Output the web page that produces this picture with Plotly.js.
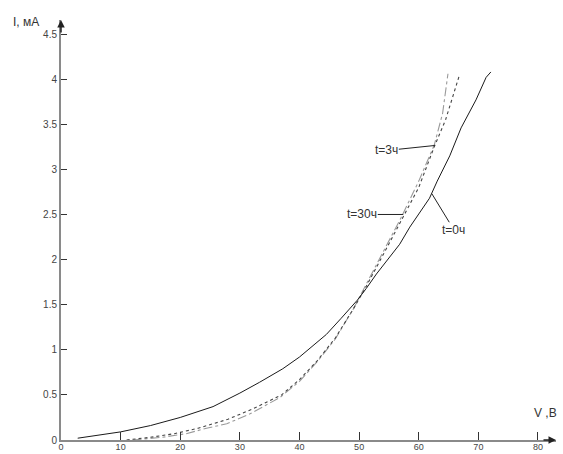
<!DOCTYPE html>
<html><head><meta charset="utf-8">
<script src="https://cdn.plot.ly/plotly-3.0.1.min.js"></script>
<style>html,body{margin:0;padding:0;background:#fff}#c{width:563px;height:454px}</style>
</head><body><div id="c"></div>
<script>
// t = 0 h (solid)
const x_t0 = [2.8, 6, 10, 15, 20, 25.5, 30, 33.3, 37.2, 40, 44.5, 47, 49.7, 51.2, 52.9, 56.8, 58.5, 61.8, 63.1, 65.2, 67.1, 69.6, 71.3, 72.1];
const y_t0 = [0.02, 0.05, 0.09, 0.16, 0.25, 0.37, 0.52, 0.64, 0.79, 0.92, 1.17, 1.35, 1.55, 1.68, 1.84, 2.17, 2.36, 2.68, 2.87, 3.15, 3.46, 3.77, 4.02, 4.08];
// t = 3 h (dotted)
const x_t3 = [11, 15, 19, 23, 28, 32, 37, 40, 43, 46, 49, 51, 54, 57, 60, 62.6, 64.5, 66.8];
const y_t3 = [0, 0.03, 0.07, 0.13, 0.23, 0.34, 0.5, 0.67, 0.88, 1.13, 1.45, 1.68, 2.05, 2.42, 2.8, 3.25, 3.55, 4.04];
// t = 30 h (dash-dot)
const x_t30 = [12, 17, 21, 24.4, 27.8, 31.7, 36.7, 40, 43, 46, 49, 51, 54, 57, 60, 62.6, 64, 64.9];
const y_t30 = [0, 0.03, 0.07, 0.13, 0.18, 0.29, 0.47, 0.65, 0.87, 1.12, 1.45, 1.7, 2.07, 2.46, 2.87, 3.27, 3.62, 4.06];

const xTicks = [0, 10, 20, 30, 40, 50, 60, 70, 80];
const yTicks = [0, 0.5, 1, 1.5, 2, 2.5, 3, 3.5, 4, 4.5];
const yTickText = ['0', '0.5', '1', '1.5', '2', '2.5', '3', '3.5', '4', '4.5'];
const labelT0 = 't=0ч', labelT3 = 't=3ч', labelT30 = 't=30ч';
const xTitle = 'V ,В', yTitle = 'I, мА';

const traces = [
  {x: x_t30, y: y_t30, mode: 'lines', line: {color: '#9a9a9a', width: 1.1, dash: 'dashdot'}, hoverinfo: 'skip'},
  {x: x_t3, y: y_t3, mode: 'lines', line: {color: '#444', width: 1.1, dash: 'dot'}, hoverinfo: 'skip'},
  {x: x_t0, y: y_t0, mode: 'lines', line: {color: '#1a1a1a', width: 1}, hoverinfo: 'skip'}
];

const font = {family: 'Liberation Sans, Arial, sans-serif', size: 12, color: '#333'};
const layout = {
  width: 563, height: 454,
  margin: {l: 61, r: 7, t: 20, b: 14, pad: 0},
  paper_bgcolor: '#fff', plot_bgcolor: '#fff',
  showlegend: false,
  font: font,
  xaxis: {
    range: [0, 83.02], showgrid: false, zeroline: false,
    showline: true, linecolor: '#8a8a8a', linewidth: 2,
    tickmode: 'array', tickvals: xTicks,
    ticks: 'inside', ticklen: 8, tickcolor: '#333', tickwidth: 1,
    ticklabelstandoff: -3,
    tickfont: {family: 'Liberation Sans, Arial, sans-serif', size: 9, color: '#444'},
    fixedrange: true
  },
  yaxis: {
    range: [0, 4.656], showgrid: false, zeroline: false,
    showline: true, linecolor: '#8a8a8a', linewidth: 2,
    tickmode: 'array', tickvals: yTicks, ticktext: yTickText,
    ticks: 'inside', ticklen: 6, tickcolor: '#333', tickwidth: 1,
    tickfont: {family: 'Liberation Sans, Arial, sans-serif', size: 10, color: '#444'},
    fixedrange: true
  },
  annotations: [
    {xref: 'x', yref: 'paper', x: 0, y: 1.0, text: '', showarrow: true, arrowhead: 2, arrowsize: 1, arrowwidth: 1.5, arrowcolor: '#222', ax: 0, ay: 14},
    {xref: 'paper', yref: 'y', x: 1.0, y: 0, text: '', showarrow: true, arrowhead: 2, arrowsize: 1, arrowwidth: 1.5, arrowcolor: '#222', ax: -14, ay: 0},
    {xref: 'paper', yref: 'paper', x: -0.0707, y: 0.995, text: yTitle, showarrow: false, font: {family: 'Liberation Sans, Arial, sans-serif', size: 12, color: '#333'}, xanchor: 'center', yanchor: 'middle'},
    {xref: 'paper', yref: 'paper', x: 0.978, y: 0.064, text: xTitle, showarrow: false, font: {family: 'Liberation Sans, Arial, sans-serif', size: 12, color: '#333'}, xanchor: 'center', yanchor: 'middle'},
    {xref: 'x', yref: 'y', x: 62.7, y: 3.265, text: labelT3, showarrow: true, arrowhead: 0, arrowwidth: 1, arrowcolor: '#222', ax: -48, ay: 5, font: font, standoff: 0, borderpad: 0},
    {xref: 'x', yref: 'y', x: 57.4, y: 2.50, text: labelT30, showarrow: true, arrowhead: 0, arrowwidth: 1, arrowcolor: '#222', ax: -41, ay: 0, font: font, standoff: 0, borderpad: 0},
    {xref: 'x', yref: 'y', x: 62.2, y: 2.73, text: labelT0, showarrow: true, arrowhead: 0, arrowwidth: 1, arrowcolor: '#222', ax: 22, ay: 36, font: font, standoff: 0, borderpad: 0}
  ]
};
Plotly.newPlot('c', traces, layout, {staticPlot: true, displayModeBar: false});
</script></body></html>
